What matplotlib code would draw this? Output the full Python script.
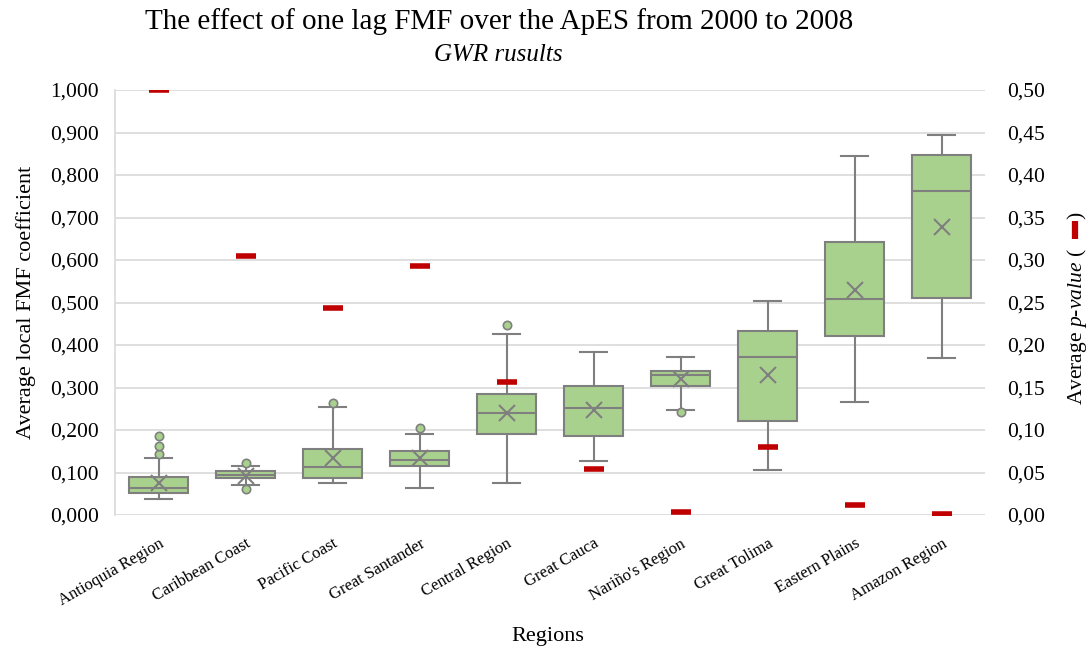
import numpy as np
import matplotlib
matplotlib.use("Agg")
from matplotlib import pyplot as plt
from matplotlib.lines import Line2D
from matplotlib.ticker import FuncFormatter

plt.rcParams['font.family'] = ['Liberation Serif', 'DejaVu Serif']
plt.rcParams['mathtext.fontset'] = 'custom'
plt.rcParams['mathtext.rm'] = 'Liberation Serif'
plt.rcParams['mathtext.it'] = 'Liberation Serif:italic'

# data
regions = ['Antioquia Region', 'Caribbean Coast', 'Pacific Coast', 'Great Santander',
           'Central Region', 'Great Cauca', "Nariño's Region", 'Great Tolima',
           'Eastern Plains', 'Amazon Region']
q1 = [0.051, 0.087, 0.088, 0.115, 0.191, 0.187, 0.303, 0.222, 0.422, 0.510]
med = [0.063, 0.094, 0.114, 0.130, 0.240, 0.251, 0.329, 0.372, 0.508, 0.762]
q3 = [0.089, 0.103, 0.155, 0.150, 0.284, 0.303, 0.340, 0.434, 0.643, 0.847]
whislo = [0.038, 0.070, 0.075, 0.063, 0.075, 0.127, 0.248, 0.107, 0.267, 0.370]
whishi = [0.133, 0.116, 0.254, 0.190, 0.425, 0.383, 0.372, 0.504, 0.845, 0.895]
means = [0.076, 0.092, 0.135, 0.135, 0.240, 0.246, 0.319, 0.329, 0.529, 0.678]
fliers = [[0.143, 0.162, 0.187], [0.123, 0.062], [0.263], [0.205], [0.447],
          [], [0.242], [], [], []]
pvalues = [0.500, 0.305, 0.243, 0.293, 0.157, 0.054, 0.004, 0.080, 0.012, 0.001]

stats = []
for i in range(len(regions)):
    stats.append(dict(label=regions[i], q1=q1[i], med=med[i], q3=q3[i],
                      whislo=whislo[i], whishi=whishi[i], mean=means[i],
                      fliers=fliers[i]))

green = '#A9D18E'
gray = '#7F7F7F'
red = '#C00000'
W, H = 1090, 652

fig = plt.figure(figsize=(10.9, 6.52), dpi=100)
ax = fig.add_axes([115 / W, 1 - 515 / H, 870 / W, 425 / H])
pos = np.arange(len(regions))

ax.bxp(stats, positions=pos, widths=0.68, showmeans=True, patch_artist=True,
       boxprops=dict(facecolor=green, edgecolor=gray, linewidth=1.5),
       medianprops=dict(color=gray, linewidth=1.5),
       whiskerprops=dict(color=gray, linewidth=1.5),
       capprops=dict(color=gray, linewidth=1.5),
       capwidths=0.3,
       meanprops=dict(marker='x', markersize=11, markeredgecolor=gray,
                      markeredgewidth=1.5),
       flierprops=dict(marker='o', markersize=6, markerfacecolor=green,
                       markeredgecolor=gray, markeredgewidth=1.2))

ax.set_xlim(-0.5, len(regions) - 0.5)
ax.set_ylim(0, 1.0)
ax.set_yticks(np.arange(0, 1.01, 0.1))
ax.yaxis.set_major_formatter(FuncFormatter(lambda v, p: ('%.3f' % v).replace('.', ',')))
ax.grid(axis='y', color='#D9D9D9', linewidth=1.2)
ax.set_axisbelow(True)
for s in ['top', 'right', 'bottom']:
    ax.spines[s].set_visible(False)
ax.spines['left'].set_color('#D9D9D9')
ax.spines['left'].set_linewidth(1.2)
ax.tick_params(axis='y', length=0, labelsize=15.5, pad=11.5)
ax.set_xticks(pos)
ax.set_xticklabels(regions, rotation=30, ha='right', rotation_mode='anchor',
                   fontsize=12)
ax.tick_params(axis='x', length=0, pad=15)
ax.set_ylabel('Average local FMF coefficient', fontsize=16, labelpad=10)

ax2 = ax.twinx()
ax2.set_ylim(0, 0.5)
ax2.set_yticks(np.arange(0, 0.501, 0.05))
ax2.yaxis.set_major_formatter(FuncFormatter(lambda v, p: ('%.2f' % v).replace('.', ',')))
for s in ax2.spines.values():
    s.set_visible(False)
ax2.tick_params(length=0, labelsize=15.5, pad=16)
ax2.plot(pos, pvalues, linestyle='none', marker='_', markersize=14,
         markeredgewidth=4, color=red, zorder=5)

# right axis title with the red legend mark inside the brackets
bx = 1082 / W
y0 = 1 - 405 / H
t1 = fig.text(bx, y0, r'Average $p$-$value$ (', rotation=90, rotation_mode='anchor',
              ha='left', va='baseline', fontsize=15.5)
fig.canvas.draw()
ext = t1.get_window_extent(fig.canvas.get_renderer())
top = ext.y1 / H
fig.add_artist(Line2D([1075 / W], [top + 18 / H], marker='|', markersize=12.5,
                      markeredgewidth=4.5, color=red, linestyle='none'))
fig.text(bx, top + 29 / H, ')', rotation=90, rotation_mode='anchor',
         ha='left', va='baseline', fontsize=15.5)

fig.text(499 / W, 1 - 22 / H, 'The effect of one lag FMF over the ApES from 2000 to 2008',
         ha='center', va='center', fontsize=21)
fig.text(498 / W, 1 - 55 / H, 'GWR rusults', ha='center', va='center', fontsize=18,
         style='italic')
fig.text(548 / W, 1 - 637 / H, 'Regions', ha='center', va='center', fontsize=16)

fig.savefig('out.png', dpi=100)
